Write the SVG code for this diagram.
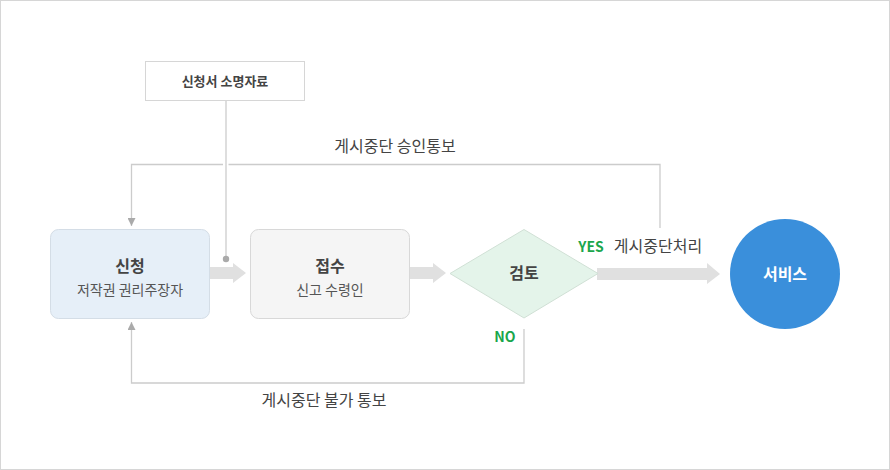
<svg xmlns="http://www.w3.org/2000/svg" width="890" height="470" viewBox="0 0 890 470">
<style>
text{font-family:"Noto Sans CJK KR","Noto Sans",sans-serif;fill:#444;text-anchor:middle}
.b{font-weight:bold}
.t{font-size:16px}
.s{font-size:14px;fill:#555}
.g{fill:#1aa64c;font-weight:bold;font-size:14px}
.ln{fill:none;stroke:#cccccc;stroke-width:1.3}
.fat{fill:#e0e0e0}
</style>
<defs>
<marker id="ah" viewBox="0 0 10 10" refX="10" refY="5" markerWidth="8" markerHeight="8" markerUnits="userSpaceOnUse" orient="auto"><path d="M0,0L10,5L0,10z" fill="#aaaaaa"/></marker>
</defs>
<rect x="0.5" y="0.5" width="889" height="469" fill="#fff" stroke="#d6d6d6"/>
<g id="connectors">
<path class="ln" d="M660,228V164.5H228.5M223,164.5H131.5V226" marker-end="url(#ah)"/>
<path class="ln" d="M226,101V258"/>
<circle cx="226" cy="259" r="3.2" fill="#aaaaaa"/>
<path class="ln" d="M524,329V383H131.5V322" marker-end="url(#ah)"/>
<path class="fat" d="M210,267H233V263L246,273L233,283V279H210z"/>
<path class="fat" d="M409,267H433V263L446,273L433,283V279H409z"/>
<path class="fat" d="M597,268H707V263L720,274L707,284V280H597z"/>
<text class="t" x="395" y="152">게시중단 승인통보</text>
<text class="t" x="324" y="406">게시중단 불가 통보</text>
<text class="g" x="591" y="252">YES</text>
<text class="t" x="658" y="252">게시중단처리</text>
<text class="g" x="505" y="342">NO</text>
</g>
<g id="doc">
<rect x="145.5" y="61.5" width="159" height="39" fill="#fff" stroke="#d6d6d6"/>
<text class="b" x="225" y="86" style="font-size:13px">신청서 소명자료</text>
</g>
<g id="apply">
<rect x="50.5" y="229.5" width="159" height="89" rx="8" fill="#e6eff8" stroke="#d4dde6"/>
<text class="t b" x="130" y="272">신청</text>
<text class="s" x="130" y="295">저작권 권리주장자</text>
</g>
<g id="receive">
<rect x="250.5" y="229.5" width="159" height="89" rx="8" fill="#f5f5f5" stroke="#d8d8d8"/>
<text class="t b" x="330" y="272">접수</text>
<text class="s" x="330" y="295">신고 수령인</text>
</g>
<g id="review">
<path d="M450,273.5L524,229.5L598,273.5L524,318z" fill="#e4f4ea" stroke="#d0e0d5"/>
<text class="t b" x="524" y="279">검토</text>
</g>
<g id="service">
<circle cx="785" cy="274" r="55" fill="#3a8fdb"/>
<text class="t b" x="785" y="280" style="fill:#fff">서비스</text>
</g>
</svg>
